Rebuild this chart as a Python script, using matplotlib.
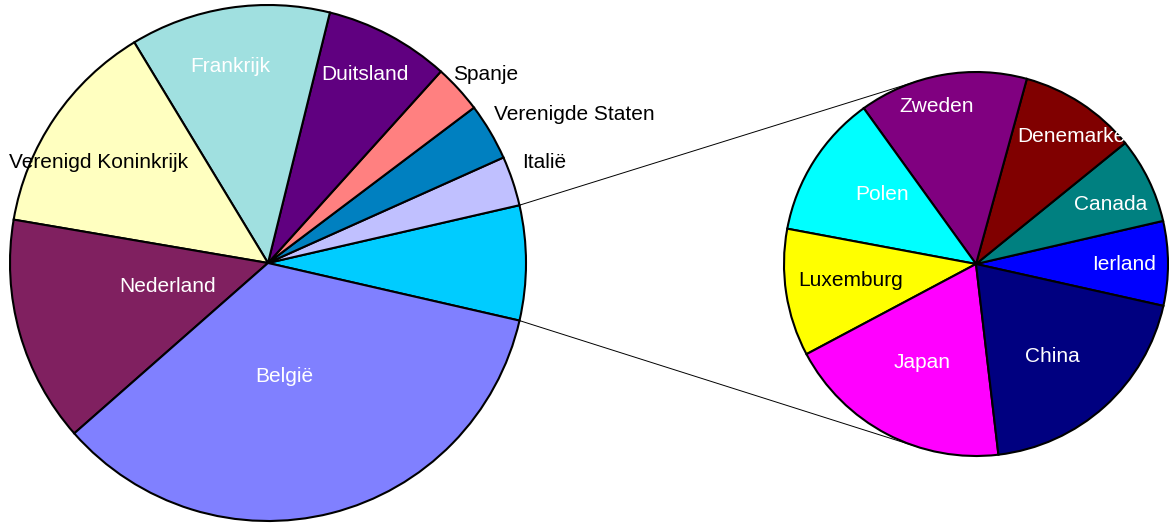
import numpy as np
import matplotlib.pyplot as plt

plt.rcParams['font.family'] = ['Liberation Sans', 'DejaVu Sans']

# secondary pie (breakdown of the "other" slice), share of total in %
sub_labels = ['Ierland', 'Canada', 'Denemarken', 'Zweden', 'Polen',
              'Luxemburg', 'Japan', 'China']
sub_values = [0.51, 0.52, 0.71, 1.02, 0.87, 0.77, 1.37, 1.41]
sub_colors = ['#0000FF', '#008080', '#800000', '#800080', '#00FFFF',
              '#FFFF00', '#FF00FF', '#000080']

# main pie, share of total in % (the first slice is the sum of the secondary pie)
main_labels = ['Italië', 'Verenigde Staten', 'Spanje', 'Duitsland',
               'Frankrijk', 'Verenigd Koninkrijk', 'Nederland', 'België']
main_values = [3.11, 3.58, 3.03, 7.83, 12.53, 13.64, 14.17, 34.94]
main_colors = ['#C0C0FF', '#0080C0', '#FF8080', '#600080',
               '#A0E0E0', '#FFFFC0', '#802060', '#8080FF']

W, H = 1169, 523
fig = plt.figure(figsize=(W / 100, H / 100), dpi=100)
ax = fig.add_axes([0, 0, 1, 1])
ax.set_xlim(0, W)
ax.set_ylim(0, H)
ax.set_aspect('equal')
ax.axis('off')

edge = dict(edgecolor='black', linewidth=1.5)

c1, r1 = (268, H - 263), 258
c2, r2 = (976, H - 264), 192

vals = [sum(sub_values)] + main_values
cols = ['#00CCFF'] + main_colors
wedges, _ = ax.pie(vals, colors=cols, startangle=-12.9, counterclock=True,
                   center=c1, radius=r1, wedgeprops=edge, normalize=True)
ax.pie(sub_values, colors=sub_colors, startangle=-12.6, counterclock=True,
       center=c2, radius=r2, wedgeprops=edge, normalize=True)
ax.set_xlim(0, W)
ax.set_ylim(0, H)

# connector lines: edges of the "other" slice -> tangents of the second pie
other = wedges[0]
for theta, sign in [(other.theta2, 1), (other.theta1, -1)]:
    t = np.radians(theta)
    px, py = c1[0] + r1 * np.cos(t), c1[1] + r1 * np.sin(t)
    dx, dy = c2[0] - px, c2[1] - py
    d = np.hypot(dx, dy)
    phi = np.arctan2(dy, dx) + sign * np.arcsin(r2 / d)
    L = np.sqrt(d ** 2 - r2 ** 2)
    ax.plot([px, px + L * np.cos(phi)], [py, py + L * np.sin(phi)],
            color='black', lw=0.7, zorder=0.5)

# label layout (pixel positions from the top-left corner)
label_pos = {
    'Frankrijk': (230, 66, 'center', 'white'),
    'Duitsland': (365, 74, 'center', 'white'),
    'Spanje': (453, 75, 'left', 'black'),
    'Verenigde Staten': (494, 115, 'left', 'black'),
    'Italië': (522, 163, 'left', 'black'),
    'Verenigd Koninkrijk': (99, 162, 'center', 'black'),
    'Nederland': (168, 287, 'center', 'white'),
    'België': (284, 376, 'center', 'white'),
    'Zweden': (937, 106, 'center', 'white'),
    'Denemarken': (1017, 136, 'left', 'white'),
    'Canada': (1111, 204, 'center', 'white'),
    'Ierland': (1124, 264, 'center', 'white'),
    'Polen': (882, 195, 'center', 'white'),
    'Luxemburg': (851, 280, 'center', 'black'),
    'Japan': (922, 362, 'center', 'white'),
    'China': (1052, 356, 'center', 'white'),
}
for name in main_labels + sub_labels:
    x, y, ha, col = label_pos[name]
    ax.text(x, H - y, name, ha=ha, va='center', color=col, fontsize=15)

fig.savefig('out.png', dpi=100, facecolor='white')
